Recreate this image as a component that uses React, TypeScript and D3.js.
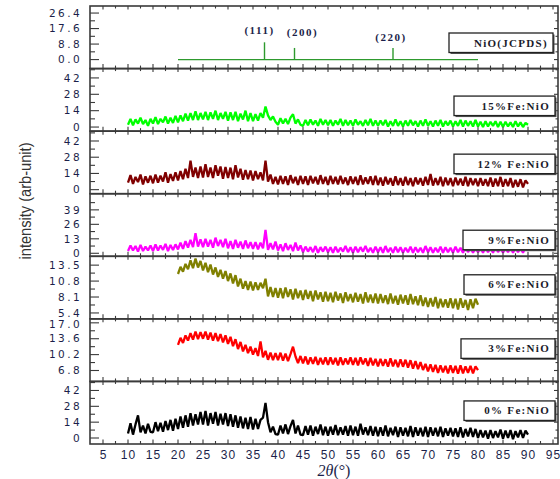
import React from "react";
import * as d3 from "d3";

const width = 560;
const height = 479;
const plotLeft = 90;
const plotRight = 558;
const plotTop = 6;
const plotBottom = 444;

// 2theta axis
const xDomain = [2.4, 96];
const xMajor = d3.range(5, 96, 5);
const xMinor = d3.range(7.5, 96, 5);
const step = 0.5;

// NiO JCPDS reference sticks
const jcpdsPos = [37.3, 43.3, 63.0];
const jcpdsInt = [9.8, 6.6, 6.6];
const jcpdsHkl = ["(111)", "(200)", "(220)"];
const jcpdsRange = [20, 80];

// measured patterns, 0.5 deg step
const fe15 = [
  2, 7, 1.5, 6.5, 3, 8, 2.5, 6, 1, 7,
  3, 8.5, 2.5, 7, 4, 9, 3, 8, 3.5, 9.5,
  4, 10, 5, 11.5, 5.5, 12, 6, 13.5, 6, 12,
  6.5, 13, 6, 12.5, 7, 14, 6, 12, 7, 13,
  5.5, 12.5, 6, 13, 5, 11.5, 6.5, 14, 5, 12,
  5, 11, 5.5, 12, 8, 17.5, 10, 6, 9, 4.5,
  2, 7.5, 3, 7, 2.5, 8, 11, 3, 6.5, 2,
  1, 6, 1.5, 6.5, 2, 5.5, 1, 7, 2, 6,
  1.5, 6, 1, 5.5, 2, 7, 1, 6, 1.5, 5.5,
  1, 6.5, 2, 5, 1, 6, 1.5, 7, 1, 5.5,
  1, 5.5, 1.5, 6, 0.5, 5, 1, 6.5, 1, 5,
  0.5, 5.5, 1, 6, 1.5, 5, 0.5, 5.5, 1, 6.5,
  1, 5, 0.5, 5.5, 1, 6, 0.5, 5, 1.5, 5.5,
  0.5, 5, 1, 6, 0.5, 5.5, 1, 5, 0.5, 6,
  0.5, 4.5, 0, 5, 0.5, 4.5, 1, 5, 0, 4.5,
  0, 4.5, 0.5, 4, 0, 5, 0.5, 4, 0, 3.5,
  2,
];

const fe12 = [
  6, 12.5, 5, 11, 6.5, 13, 4.5, 11.5, 6, 12,
  5.5, 13, 6, 12, 7, 15, 6, 13.5, 7.5, 15,
  8, 16, 9, 18, 10, 25, 11, 19, 10, 20,
  10.5, 22, 11, 19, 10, 21, 12, 20, 9.5, 19.5,
  10, 19, 9, 21, 10.5, 18, 8.5, 17, 9, 16.5,
  8, 16, 9, 15, 8, 25, 7, 13, 5, 11,
  4.5, 12, 5, 11.5, 4, 12.5, 5.5, 11, 4, 12,
  5, 11.5, 4, 12, 5.5, 11, 4.5, 12.5, 5, 11,
  4, 12, 5, 11, 4.5, 12, 5, 10.5, 4, 11.5,
  5, 11, 4, 12.5, 4.5, 10.5, 5, 11.5, 4, 12,
  4, 10.5, 3.5, 11, 4.5, 10, 3.5, 11.5, 4, 10,
  3.5, 11, 4, 10, 3, 10.5, 4.5, 10, 3.5, 11,
  4, 13.5, 3.5, 10, 4, 11, 3, 10.5, 4, 10,
  3, 10.5, 4, 9.5, 3.5, 11, 3, 10, 4, 9.5,
  3, 10, 3.5, 9, 3, 10.5, 2.5, 9.5, 3, 11,
  2.5, 9, 3, 10, 2, 8.5, 2.5, 9, 2, 8,
  5,
];

const fe9 = [
  2, 7, 2.5, 6.5, 1.5, 7.5, 2, 6, 2.5, 7,
  2, 8, 2.5, 7, 3, 8.5, 2, 7.5, 3, 8,
  3.5, 9.5, 4, 11, 5, 12, 5.5, 18, 6, 12.5,
  5.5, 13, 6, 12, 5, 14, 6.5, 12, 5.5, 13,
  4.5, 11, 4, 12, 5, 10.5, 4, 11.5, 4.5, 10,
  4, 10, 3.5, 9.5, 4.5, 21, 3, 9, 3.5, 10.5,
  2.5, 8, 2, 9, 3, 7.5, 2, 9.5, 2.5, 7,
  1, 6, 1.5, 5.5, 1, 6.5, 0.5, 5.5, 1.5, 6,
  1, 5.5, 0.5, 6, 1, 5, 1.5, 6.5, 1, 5.5,
  0.5, 6, 1, 5.5, 1.5, 6.5, 1, 5, 0.5, 6,
  1, 5.5, 0.5, 6.5, 1, 5, 0.5, 6, 1, 5.5,
  0.5, 5, 1, 6, 0.5, 5.5, 1, 5, 0.5, 6.5,
  1, 5.5, 0.5, 5, 1, 6, 0.5, 5.5, 1, 5,
  0.5, 6, 1, 5, 0.5, 6.5, 1, 5.5, 0.5, 5,
  1, 5.5, 0.5, 6, 1, 5, 0.5, 6.5, 1, 5.5,
  0.5, 5, 1, 6, 0.5, 5.5, 1, 5, 0.5, 6,
  3,
];

const fe6 = [
  12.0, 13.2, 12.4, 13.7, 12.8, 14.3, 13.0, 14.6, 13.1, 14.2,
  12.6, 13.9, 12.3, 13.6, 11.9, 13.1, 11.5, 12.7, 11.2, 12.5,
  10.8, 12.1, 10.4, 11.8, 9.9, 11.2, 9.5, 10.8, 9.3, 10.7,
  9.2, 10.6, 9.3, 10.5, 9.6, 11.2, 8.2, 9.8, 8.1, 9.6,
  8.0, 9.6, 7.9, 9.7, 8.1, 9.4, 7.7, 9.5, 7.9, 9.2,
  7.6, 9.3, 7.8, 9.1, 7.4, 9.2, 7.7, 8.9, 7.3, 9.0,
  7.4, 8.8, 7.2, 9.0, 7.5, 8.7, 7.1, 8.9, 7.4, 8.6,
  7.2, 8.8, 7.3, 8.6, 7.0, 8.9, 7.2, 8.5, 7.1, 8.7,
  7.0, 8.6, 7.1, 8.4, 6.9, 8.7, 7.0, 8.3, 6.8, 8.5,
  7.0, 8.4, 6.8, 8.6, 6.9, 8.2, 6.7, 8.4, 6.6, 8.0,
  6.4, 7.9, 6.5, 8.1, 6.2, 7.8, 6.4, 7.7, 6.3, 7.9,
  6.2, 7.8, 6.0, 7.9, 6.3, 7.6, 5.9, 7.7, 6.2, 7.8,
  6.8,
];

const fe3 = [
  12.3, 13.8, 12.7, 14.3, 13.2, 14.8, 13.4, 15.1, 13.5, 15.0,
  13.6, 15.1, 13.4, 14.9, 13.2, 14.8, 13.1, 14.6, 12.8, 14.3,
  12.5, 14.0, 12.0, 13.5, 11.4, 12.9, 10.9, 12.3, 10.5, 11.9,
  10.2, 11.6, 9.9, 13.0, 9.6, 11.0, 9.1, 10.6, 9.0, 10.5,
  9.0, 10.6, 8.9, 10.4, 8.8, 10.3, 11.9, 9.8, 8.4, 9.9,
  8.3, 9.8, 8.1, 9.6, 8.2, 9.7, 8.0, 9.5, 8.1, 9.6,
  8.0, 9.6, 8.1, 9.5, 7.9, 9.6, 8.0, 9.4, 8.1, 9.6,
  8.0, 9.5, 7.9, 9.6, 8.1, 9.4, 7.8, 9.5, 7.9, 9.3,
  7.7, 9.3, 7.8, 9.2, 7.6, 9.4, 7.7, 9.1, 7.5, 9.2,
  7.6, 9.1, 7.4, 9.0, 7.2, 8.8, 7.1, 8.6, 6.9, 8.2,
  6.6, 8.1, 6.5, 8.0, 6.3, 7.9, 6.4, 7.8, 6.2, 7.9,
  6.3, 7.8, 6.1, 7.9, 6.2, 7.7, 6.3, 7.8, 6.2, 7.7,
  6.9,
];

const fe0 = [
  4, 13, 3, 12, 20, 5, 11, 4, 12.5, 5.5,
  5, 14, 6, 13.5, 5.5, 15, 7, 16, 6.5, 17,
  8, 19, 9, 20, 10, 22, 11, 21, 12, 23,
  12, 24, 11, 22, 12.5, 23, 11, 21.5, 12, 22,
  10.5, 21, 10, 20, 9, 19, 8.5, 18, 8, 18.5,
  7.5, 17, 8, 16, 18, 31, 14, 5, 10, 3.5,
  3, 11, 4, 12, 3.5, 10.5, 16, 4, 11, 3,
  2.5, 10.5, 3, 11, 2, 10, 3.5, 12, 2.5, 10,
  2, 10, 3, 11.5, 2.5, 9.5, 3, 10.5, 2, 11,
  2.5, 10, 2, 12.5, 3, 9.5, 2.5, 10.5, 2, 10,
  1.5, 9.5, 2, 11, 1.5, 9, 2.5, 10, 1, 9.5,
  2, 9, 1.5, 10.5, 1, 9.5, 2, 9, 1.5, 10,
  1, 9.5, 2, 9, 1.5, 10, 1, 8.5, 2, 9,
  1.5, 8.5, 1, 9.5, 0.5, 8, 1.5, 9, 1, 8,
  0, 7, 0.5, 6.5, -0.5, 7, 0, 6, 0.5, 7.5,
  -0.5, 6.5, 0, 7, -1, 6, 0.5, 7, 0, 6.5,
  3,
];

const panels = [
  { id: "jcpds", label: "NiO(JCPDS)", data: null, start: 0, color: "#2e9a2e",
    yDomain: [-5.1, 30.4], ticks: [0, 8.8, 17.6, 26.4], fmt: ".1f",
    box: { x: 449, dy: 27, w: 104 } },
  { id: "fe15", label: "15%Fe:NiO", data: fe15, start: 10, color: "#00ff00",
    yDomain: [-3.5, 50], ticks: [0, 14, 28, 42], fmt: "d",
    box: { x: 454, dy: 27.5, w: 101 } },
  { id: "fe12", label: "12% Fe:NiO", data: fe12, start: 10, color: "#800000",
    yDomain: [-3.5, 50.5], ticks: [0, 14, 28, 42], fmt: "d",
    box: { x: 454, dy: 23, w: 101 } },
  { id: "fe9", label: "9%Fe:NiO", data: fe9, start: 10, color: "#ff00ff",
    yDomain: [-2.7, 53.5], ticks: [0, 13, 26, 39], fmt: "d",
    box: { x: 463, dy: 36.5, w: 92 } },
  { id: "fe6", label: "6%Fe:NiO", data: fe6, start: 20, color: "#808000",
    yDomain: [4.4, 15.0], ticks: [5.4, 8.1, 10.8, 13.5], fmt: ".1f",
    box: { x: 464, dy: 18.5, w: 91 } },
  { id: "fe3", label: "3%Fe:NiO", data: fe3, start: 20, color: "#ff0000",
    yDomain: [4.46, 17.85], ticks: [6.8, 10.2, 13.6, 17.0], fmt: ".1f",
    box: { x: 461, dy: 20, w: 94 } },
  { id: "fe0", label: "0% Fe:NiO", data: fe0, start: 10, color: "#000000",
    yDomain: [-5.3, 50], ticks: [0, 14, 28, 42], fmt: "d",
    box: { x: 464, dy: 19.5, w: 91 } },
];

const frameColor = "#3a3a3a";
const labelColor = "#1c1f4a";

export default function App() {
  const x = d3.scaleLinear().domain(xDomain).range([plotLeft, plotRight]);
  const ph = (plotBottom - plotTop) / panels.length;

  return (
    <svg
      width={width}
      height={height}
      style={{ position: "absolute", left: 0, top: 0, background: "#fff" }}
    >
      {panels.map((p, i) => {
        const top = plotTop + i * ph;
        const bottom = top + ph;
        const y = d3.scaleLinear().domain(p.yDomain).range([bottom, top]);
        const fmt = d3.format(p.fmt);
        const d0 = p.ticks[1] - p.ticks[0];
        const minor = p.ticks.map((t) => t + d0 / 2).filter((t) => y(t) > top + 1);

        let path = null;
        if (p.data) {
          const line = d3
            .line<number>()
            .x((_, k) => x(p.start + k * step))
            .y((v) => y(v));
          path = (
            <path
              d={line(p.data) || ""}
              fill="none"
              stroke={p.color}
              strokeWidth={2.3}
              strokeLinejoin="bevel"
              clipPath={`url(#clip-${p.id})`}
            />
          );
        }

        return (
          <g key={p.id}>
            <clipPath id={`clip-${p.id}`}>
              <rect x={plotLeft} y={top} width={plotRight - plotLeft} height={ph} />
            </clipPath>

            {p.id === "jcpds" && (
              <g>
                <line
                  x1={x(jcpdsRange[0])}
                  x2={x(jcpdsRange[1])}
                  y1={y(0)}
                  y2={y(0)}
                  stroke={p.color}
                  strokeWidth={1.2}
                />
                {jcpdsPos.map((pos, k) => (
                  <line
                    key={k}
                    x1={x(pos)}
                    x2={x(pos)}
                    y1={y(0)}
                    y2={y(jcpdsInt[k])}
                    stroke={p.color}
                    strokeWidth={1.4}
                  />
                ))}
                {jcpdsHkl.map((h, k) => (
                  <text
                    key={h}
                    x={x(jcpdsPos[k]) + [-5, 8, -2][k]}
                    y={y(jcpdsInt[k]) - [8, 12, 7][k]}
                    textAnchor="middle"
                    fontFamily="Liberation Serif"
                    fontWeight="bold"
                    fontSize={11}
                    letterSpacing={1.5}
                    fill={labelColor}
                  >
                    {h}
                  </text>
                ))}
              </g>
            )}

            {path}

            <rect
              x={plotLeft}
              y={top}
              width={plotRight - plotLeft}
              height={ph}
              fill="none"
              stroke={frameColor}
              strokeWidth={1.6}
            />

            {/* x ticks on top and bottom of each panel */}
            {xMajor.map((t) => (
              <g key={`xM${t}`}>
                <line x1={x(t)} x2={x(t)} y1={bottom} y2={bottom - 4.5} stroke={frameColor} strokeWidth={1.1} />
                <line x1={x(t)} x2={x(t)} y1={top} y2={top + 3.5} stroke={frameColor} strokeWidth={1.1} />
              </g>
            ))}
            {xMinor.map((t) => (
              <g key={`xm${t}`}>
                <line x1={x(t)} x2={x(t)} y1={bottom} y2={bottom - 3} stroke={frameColor} strokeWidth={1.1} />
                <line x1={x(t)} x2={x(t)} y1={top} y2={top + 2.5} stroke={frameColor} strokeWidth={1.1} />
              </g>
            ))}

            {/* y ticks */}
            {p.ticks.map((t) => (
              <g key={`y${t}`}>
                <line x1={plotLeft} x2={plotLeft + 9} y1={y(t)} y2={y(t)} stroke={frameColor} strokeWidth={1.1} />
                <line x1={plotRight} x2={plotRight - 4} y1={y(t)} y2={y(t)} stroke={frameColor} strokeWidth={1.1} />
                <text
                  x={82}
                  y={Math.max(y(t), top + 5)}
                  dy="0.36em"
                  textAnchor="end"
                  fontFamily="DejaVu Sans"
                  fontSize={10.5}
                  letterSpacing={2.4}
                  fill={labelColor}
                >
                  {fmt(t)}
                </text>
              </g>
            ))}
            {minor.map((t) => (
              <g key={`ym${t}`}>
                <line x1={plotLeft} x2={plotLeft + 5} y1={y(t)} y2={y(t)} stroke={frameColor} strokeWidth={1.1} />
                <line x1={plotRight} x2={plotRight - 2.5} y1={y(t)} y2={y(t)} stroke={frameColor} strokeWidth={1.1} />
              </g>
            ))}

            {/* legend box */}
            <rect x={p.box.x + 1.5} y={top + p.box.dy + 1.5} width={p.box.w} height={19.5} fill="#555" />
            <rect
              x={p.box.x}
              y={top + p.box.dy}
              width={p.box.w}
              height={19.5}
              fill="#fff"
              stroke="#222"
              strokeWidth={1.3}
            />
            <text
              x={p.box.x + p.box.w - 5}
              y={top + p.box.dy + 13.5}
              textAnchor="end"
              fontFamily="Liberation Serif"
              fontWeight="bold"
              fontSize={11}
              letterSpacing={1.3}
              fill="#1a1a2a"
            >
              {p.label}
            </text>
          </g>
        );
      })}

      {/* x tick labels */}
      {xMajor.map((t) => (
        <text
          key={`xl${t}`}
          x={x(t) + 0.6}
          y={459}
          textAnchor="middle"
          fontFamily="Liberation Sans"
          fontSize={12}
          letterSpacing={1.2}
          fill={labelColor}
        >
          {t}
        </text>
      ))}

      <text
        x={334}
        y={476}
        textAnchor="middle"
        fontFamily="Liberation Serif"
        fontSize={16}
        fill={labelColor}
      >
        <tspan fontStyle="italic">2θ</tspan>
        <tspan>(°)</tspan>
      </text>

      <text
        transform="translate(31,201) rotate(-90)"
        textAnchor="middle"
        fontFamily="Liberation Sans"
        fontSize={16}
        textLength={117}
        lengthAdjust="spacingAndGlyphs"
        fill="#333"
      >
        intensity (arb-unit)
      </text>
    </svg>
  );
}
